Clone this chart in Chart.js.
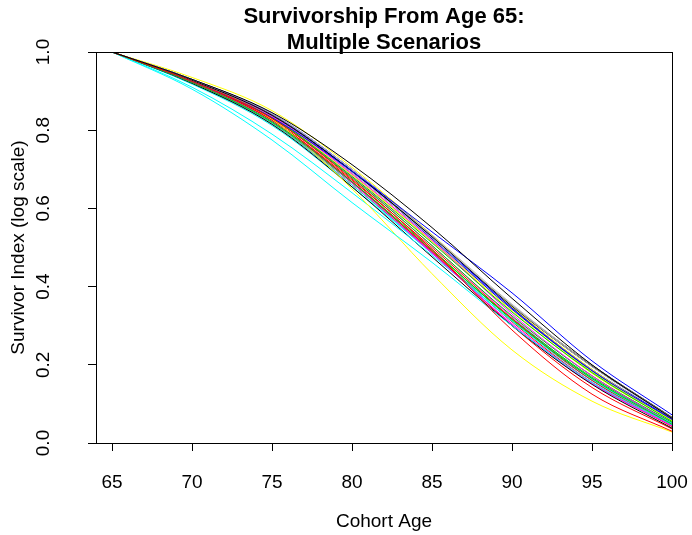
<!DOCTYPE html>
<html>
<head>
<meta charset="utf-8">
<title>Survivorship From Age 65</title>
<script src="https://cdn.jsdelivr.net/npm/chart.js@4.4.0/dist/chart.umd.min.js"></script>
<style>
  html, body { margin: 0; padding: 0; background: #fff; }
  canvas { display: block; }
</style>
</head>
<body>
<canvas id="grafico" width="692" height="535"></canvas>
<script>
// edades del eje x y ticks
const ages = [65, 70, 75, 80, 85, 90, 95, 100];
const xTicks = [65, 70, 75, 80, 85, 90, 95, 100];
const yTicks = [0, 0.2, 0.4, 0.6, 0.8, 1.0];

// paleta por defecto de R (se repite por escenario)
const rPalette = ['#000000', '#FF0000', '#00CD00', '#0000FF', '#00FFFF', '#FF00FF', '#FFFF00', '#BEBEBE'];

const scenarios = [
  [1, 0.930, 0.845, 0.712, 0.551, 0.370, 0.200, 0.063],
  [1, 0.925, 0.830, 0.675, 0.495, 0.289, 0.125, 0.030],
  [1, 0.922, 0.822, 0.668, 0.495, 0.315, 0.165, 0.048],
  [1, 0.925, 0.832, 0.695, 0.540, 0.384, 0.210, 0.072],
  [1, 0.905, 0.775, 0.615, 0.462, 0.300, 0.155, 0.047],
  [1, 0.922, 0.822, 0.665, 0.485, 0.305, 0.155, 0.045],
  [1, 0.925, 0.828, 0.650, 0.433, 0.238, 0.107, 0.028],
  [1, 0.930, 0.842, 0.700, 0.530, 0.352, 0.195, 0.063],
  [1, 0.928, 0.838, 0.695, 0.528, 0.350, 0.196, 0.064],
  [1, 0.924, 0.826, 0.672, 0.500, 0.318, 0.160, 0.046],
  [1, 0.926, 0.832, 0.682, 0.512, 0.335, 0.180, 0.055],
  [1, 0.930, 0.842, 0.700, 0.530, 0.345, 0.185, 0.060],
  [1, 0.910, 0.790, 0.640, 0.480, 0.312, 0.162, 0.050],
  [1, 0.928, 0.835, 0.688, 0.518, 0.330, 0.172, 0.050],
  [1, 0.935, 0.850, 0.705, 0.532, 0.348, 0.188, 0.058],
  [1, 0.928, 0.838, 0.692, 0.525, 0.352, 0.196, 0.064],
  [1, 0.920, 0.815, 0.655, 0.476, 0.300, 0.150, 0.038],
  [1, 0.924, 0.826, 0.668, 0.490, 0.300, 0.142, 0.036],
  [1, 0.922, 0.820, 0.665, 0.492, 0.318, 0.168, 0.052],
  [1, 0.930, 0.838, 0.695, 0.522, 0.342, 0.185, 0.062],
  [1, 0.920, 0.818, 0.660, 0.485, 0.312, 0.160, 0.050],
  [1, 0.924, 0.825, 0.668, 0.488, 0.302, 0.152, 0.044],
  [1, 0.926, 0.832, 0.685, 0.515, 0.338, 0.178, 0.056],
  [1, 0.930, 0.842, 0.698, 0.532, 0.355, 0.198, 0.065],
  [1, 0.929, 0.840, 0.696, 0.527, 0.352, 0.199, 0.066],
  [1, 0.922, 0.818, 0.660, 0.488, 0.310, 0.155, 0.042],
  [1, 0.925, 0.830, 0.678, 0.505, 0.325, 0.172, 0.052],
  [1, 0.929, 0.838, 0.692, 0.525, 0.346, 0.188, 0.062],
  [1, 0.918, 0.812, 0.655, 0.485, 0.318, 0.165, 0.052],
  [1, 0.926, 0.830, 0.680, 0.505, 0.322, 0.165, 0.048],
  [1, 0.927, 0.835, 0.688, 0.518, 0.342, 0.182, 0.058],
  [1, 0.929, 0.840, 0.694, 0.528, 0.350, 0.195, 0.064]
];

const FUENTE = "'Liberation Sans', Arial, Helvetica, sans-serif";

// marco completo alrededor del area de trazado (como box() en R)
const marco = {
  id: 'marco',
  afterDraw(chart) {
    const { ctx, chartArea: a } = chart;
    ctx.save();
    ctx.strokeStyle = '#000';
    ctx.lineWidth = 1;
    ctx.strokeRect(Math.round(a.left) + 0.5, Math.round(a.top) + 0.5,
      Math.round(a.right - a.left), Math.round(a.bottom - a.top));
    ctx.restore();
  }
};

const datasets = scenarios.map((valores, i) => ({
  label: 'Escenario ' + (i + 1),
  data: ages.map((edad, j) => ({ x: edad, y: valores[j] })),
  borderColor: rPalette[i % rPalette.length],
  borderWidth: 1,
  pointRadius: 0,
  fill: false,
  cubicInterpolationMode: 'monotone'
}));

const ctx = document.getElementById('grafico').getContext('2d');

const myChart = new Chart(ctx, {
  type: 'line',
  data: { datasets },
  plugins: [marco],
  options: {
    responsive: false,
    animation: false,
    devicePixelRatio: 1,
    layout: { padding: { left: 0, right: 20, top: 0, bottom: 0 } },
    plugins: {
      legend: { display: false },
      tooltip: { enabled: false },
      title: {
        display: true,
        fullSize: false,
        text: ['Survivorship From Age 65:', 'Multiple Scenarios'],
        color: '#000',
        font: { family: FUENTE, size: 22, weight: 'bold', lineHeight: 1.182 },
        padding: { top: 4, bottom: -4 }
      }
    },
    scales: {
      x: {
        type: 'linear',
        min: 64,
        max: 100,
        afterBuildTicks: (s) => { s.ticks = xTicks.map((v) => ({ value: v })); },
        afterFit: (s) => {
          s.height = 92;
          s.paddingLeft = 0;
          s.paddingRight = 0;
        },
        border: { display: false },
        grid: { drawOnChartArea: false, color: '#000', tickLength: 8 },
        ticks: {
          color: '#000',
          font: { family: FUENTE, size: 19 },
          padding: 20,
          autoSkip: false,
          maxRotation: 0,
          minRotation: 0
        },
        title: {
          display: true,
          text: 'Cohort Age',
          color: '#000',
          font: { family: FUENTE, size: 19 },
          padding: { top: 0, bottom: 2 }
        }
      },
      y: {
        type: 'linear',
        min: 0,
        max: 1,
        afterBuildTicks: (s) => { s.ticks = yTicks.map((v) => ({ value: v })); },
        afterFit: (s) => {
          s.width = 96;
          s.paddingTop = 0;
          s.paddingBottom = 0;
        },
        border: { display: false },
        grid: { drawOnChartArea: false, color: '#000', tickLength: 8 },
        ticks: {
          color: '#000',
          font: { family: FUENTE, size: 19 },
          padding: 31,
          minRotation: 90,
          maxRotation: 90,
          crossAlign: 'center',
          callback: (v) => v.toFixed(1)
        },
        title: {
          display: true,
          text: 'Survivor Index (log scale)',
          color: '#000',
          font: { family: FUENTE, size: 19 },
          padding: { top: 7, bottom: 0 }
        }
      }
    }
  }
});
</script>
</body>
</html>
